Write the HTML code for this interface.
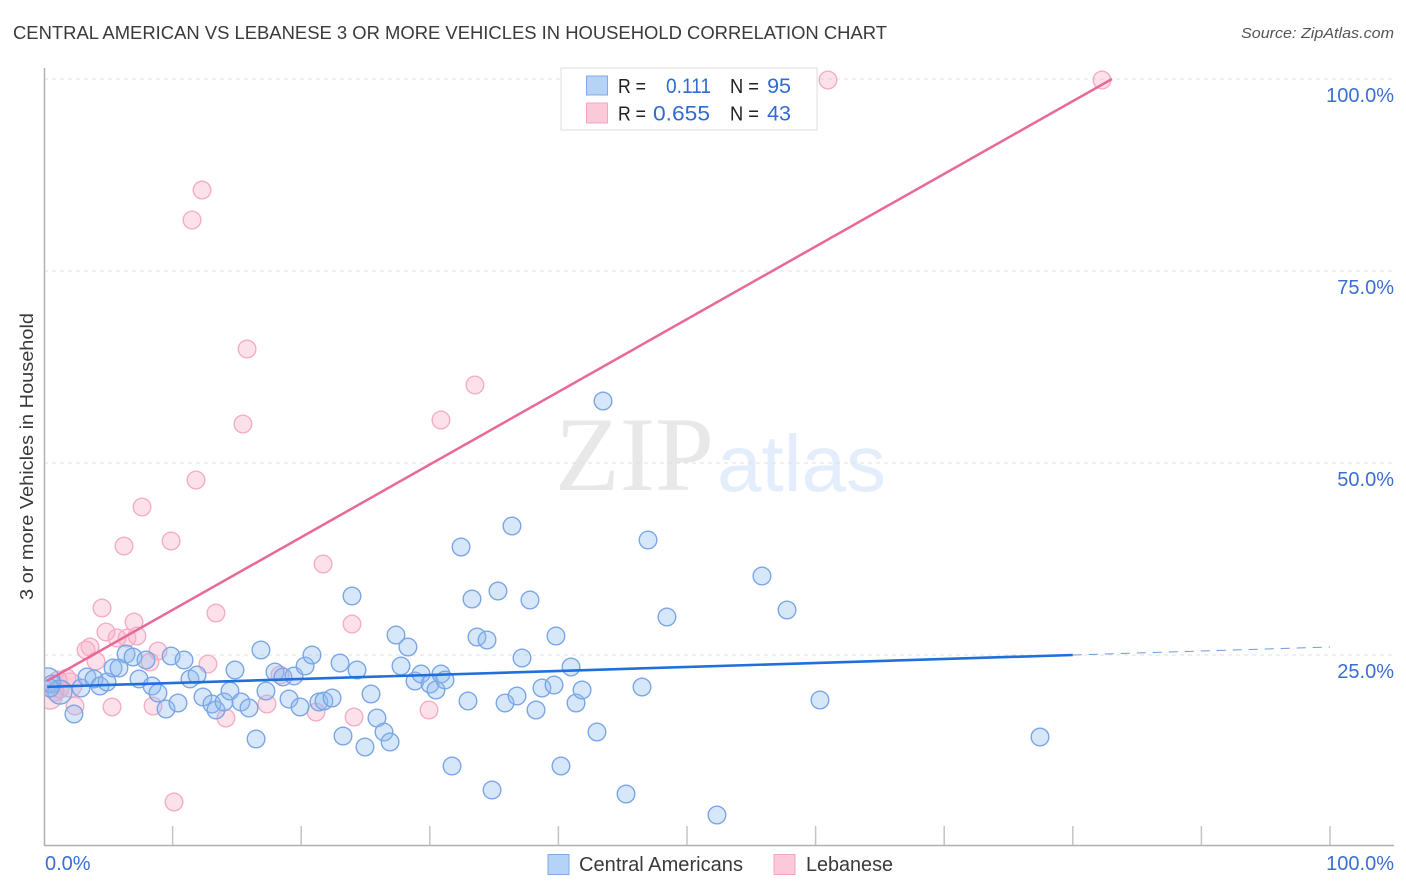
<!DOCTYPE html>
<html lang="en">
<head>
<meta charset="utf-8">
<title>Central American vs Lebanese 3 or More Vehicles in Household Correlation Chart</title>
<style>
html,body{margin:0;padding:0;background:#fff;width:1406px;height:892px;overflow:hidden}
svg{display:block;font-family:"Liberation Sans",sans-serif}
</style>
</head>
<body>
<svg id="chart" width="1406" height="892" viewBox="0 0 1406 892" xmlns="http://www.w3.org/2000/svg">
  <defs>
    <clipPath id="plot-clip"><rect x="45" y="60" width="1349" height="786"/></clipPath>
  </defs>
  <rect x="0" y="0" width="1406" height="892" fill="#ffffff"/>
  <text x="13" y="39" font-size="18.5" fill="#3a3a3a" textLength="874" lengthAdjust="spacingAndGlyphs">CENTRAL AMERICAN VS LEBANESE 3 OR MORE VEHICLES IN HOUSEHOLD CORRELATION CHART</text>
  <text x="1394" y="38" font-size="15" font-style="italic" fill="#555" text-anchor="end" textLength="153" lengthAdjust="spacingAndGlyphs">Source: ZipAtlas.com</text>
  <text transform="translate(33,456.5) rotate(-90)" font-size="18.5" fill="#3a3a3a" text-anchor="middle" textLength="287" lengthAdjust="spacingAndGlyphs">3 or more Vehicles in Household</text>
  <g>
    <text x="555" y="490" font-family="'Liberation Serif',serif" font-size="106" fill="#e8e8e8">ZIP</text>
    <text x="717" y="491" font-size="80" fill="#e4edfb">atlas</text>
  </g>
  <g id="grid"></g>
  <g id="axes"></g>
  <g clip-path="url(#plot-clip)">
    <g id="points-lebanese"></g>
    <g id="points-central"></g>
  </g>
  <g id="trends"></g>
  <g id="labels"></g>
  <g>
    <rect x="561" y="68" width="256" height="62" fill="#fff" stroke="#dddddd" stroke-width="1"/>
    <rect x="586.5" y="76" width="21" height="19" fill="#b5d2f7" stroke="#7fabe6"/>
    <rect x="586.5" y="103" width="21" height="20" fill="#fbc9d8" stroke="#f4a6bf"/>
    <g font-size="20" fill="#222">
      <text x="618" y="93" textLength="28" lengthAdjust="spacingAndGlyphs">R =</text>
      <text x="666" y="93" fill="#2f6cd0" font-size="21.5" textLength="45" lengthAdjust="spacingAndGlyphs">0.111</text>
      <text x="730" y="93" textLength="29" lengthAdjust="spacingAndGlyphs">N =</text>
      <text x="791" y="93" text-anchor="end" fill="#2f6cd0" font-size="21.5">95</text>
      <text x="618" y="120.5" textLength="28" lengthAdjust="spacingAndGlyphs">R =</text>
      <text x="653" y="120.5" fill="#2f6cd0" font-size="21.5" textLength="57" lengthAdjust="spacingAndGlyphs">0.655</text>
      <text x="730" y="120.5" textLength="29" lengthAdjust="spacingAndGlyphs">N =</text>
      <text x="791" y="120.5" text-anchor="end" fill="#2f6cd0" font-size="21.5">43</text>
    </g>
  </g>
  <g>
    <rect x="548" y="854.5" width="21" height="20" fill="#b5d2f7" stroke="#7fabe6"/>
    <text x="579" y="871" font-size="20" fill="#3a3a3a" textLength="164" lengthAdjust="spacingAndGlyphs">Central Americans</text>
    <rect x="774" y="854.5" width="21" height="20" fill="#fbc9d8" stroke="#f4a6bf"/>
    <text x="806" y="871" font-size="20" fill="#3a3a3a" textLength="87" lengthAdjust="spacingAndGlyphs">Lebanese</text>
  </g>
</svg>
<script>
const centralX = [0.31,0.62,1.24,2.33,2.88,3.34,3.89,4.35,4.90,5.37,5.83,6.38,6.92,7.39,7.93,8.40,8.86,9.49,9.88,10.42,10.89,11.35,11.90,12.36,13.06,13.37,14.00,14.46,14.85,15.32,15.94,16.49,16.87,17.26,17.96,18.58,19.05,19.44,19.91,20.30,20.84,21.38,21.77,22.40,23.02,23.25,23.95,24.34,24.96,25.43,25.89,26.44,26.91,27.37,27.76,28.30,28.85,29.32,30.02,30.48,30.87,31.18,31.73,32.43,32.97,33.28,33.67,34.45,34.84,35.30,35.85,36.39,36.78,37.17,37.79,38.26,38.72,39.66,39.81,40.20,40.98,41.37,41.84,43.00,43.47,45.26,46.50,46.97,48.44,52.33,55.83,57.78,60.34,77.45,0.47];
const centralY = [21.75,21.22,20.18,17.32,20.70,22.14,21.88,20.96,21.48,23.31,23.31,25.13,24.74,21.88,24.35,20.96,20.05,17.97,24.87,18.75,24.35,21.88,22.40,19.53,18.62,17.84,18.88,20.31,23.05,18.88,18.10,14.06,25.65,20.31,22.79,22.14,19.27,22.27,18.23,23.57,25.00,18.88,19.01,19.40,23.96,14.45,32.68,23.05,13.02,19.92,16.80,14.97,13.67,27.60,23.57,26.04,21.61,22.53,21.22,20.44,22.53,21.75,10.55,39.06,19.01,32.29,27.34,26.95,7.42,33.33,18.75,41.80,19.66,24.61,32.16,17.84,20.70,21.09,27.47,10.55,23.44,18.75,20.44,14.97,58.07,6.90,20.83,39.97,29.95,4.17,35.29,30.86,19.14,14.32,20.70];
const lebaneseX = [0.47,0.86,1.24,1.09,1.79,2.41,3.27,3.58,4.04,4.51,4.82,5.29,5.68,6.22,6.45,7.00,7.23,7.62,8.24,8.48,8.86,9.88,10.11,11.51,11.82,12.29,12.75,13.37,14.15,15.47,15.79,17.34,18.35,21.15,21.70,23.95,24.11,29.94,30.87,33.51,60.96,82.27,2.02];
const lebaneseY = [19.53,20.18,20.57,21.75,22.00,18.36,25.65,26.04,24.22,31.12,28.00,18.23,27.21,39.19,27.21,29.30,27.47,44.27,24.09,18.36,25.52,39.84,5.86,81.64,47.79,85.55,23.83,30.47,16.80,55.08,64.84,18.62,22.40,17.58,36.85,29.04,16.93,17.84,55.60,60.16,99.87,99.87,21.09];
const centralLargeIdx = [0,2];
const lebaneseLargeIdx = [0,42];
const centralTrendX = [0.25,80];
const centralTrendY = [20.85,25];
const centralTrendExtX = [80,100];
const centralTrendExtY = [25,26.04];
const lebaneseTrendX = [0.2,83.05];
const lebaneseTrendY = [21.6,100];
const xTicks = [10,20,30,40,50,60,70,80,90,100];
const yGrid = [25,50,75,100];
const yTickLabels = ["25.0%","50.0%","75.0%","100.0%"];
const xTickLabels = ["0.0%","100.0%"];

const NS = "http://www.w3.org/2000/svg";
function sx(v){ return 44 + v * 12.86; }
function sy(v){ return 847 - v * 7.68; }
function mk(tag, parent, attrs){
  const el = document.createElementNS(NS, tag);
  for (const k in attrs) el.setAttribute(k, attrs[k]);
  parent.appendChild(el);
  return el;
}
const grid = document.getElementById('grid');
yGrid.forEach(function(v){
  const l = mk('line', grid, {x1:44, x2:1394, y1:sy(v), y2:sy(v), stroke:'#e0e0e0', 'stroke-width':1, 'stroke-dasharray':'4 4'});
  
  
});
const axes = document.getElementById('axes');
const yAxis = mk('line', axes, {x1:44.5, x2:44.5, y1:68, y2:846, stroke:'#b0b0b0', 'stroke-width':1.5});


const xAxis = mk('line', axes, {x1:44, x2:1394, y1:845.5, y2:845.5, stroke:'#b0b0b0', 'stroke-width':1.5});


xTicks.forEach(function(v){
  const t = mk('line', axes, {x1:sx(v), x2:sx(v), y1:826, y2:845, stroke:'#c4c4c4', 'stroke-width':1.5});
  
  
});
function drawPoints(gid, xs, ys, large, fill, fillOp, stroke, name){
  const g = document.getElementById(gid);
  xs.forEach(function(x, i){
    const r = large.indexOf(i) >= 0 ? 12 : 8.8;
    const c = mk('circle', g, {cx:sx(x), cy:sy(ys[i]), r:r, fill:fill, 'fill-opacity':fillOp, stroke:stroke, 'stroke-width':1.4});
    
    
  });
}
drawPoints('points-lebanese', lebaneseX, lebaneseY, lebaneseLargeIdx, '#f9a9c2', 0.35, '#f5adc4', 'lebanese-point');
drawPoints('points-central', centralX, centralY, centralLargeIdx, '#8dbaf2', 0.35, '#7ba6e6', 'central-american-point');

const trends = document.getElementById('trends');
const t1 = mk('line', trends, {x1:sx(lebaneseTrendX[0]), y1:sy(lebaneseTrendY[0]), x2:sx(lebaneseTrendX[1]), y2:sy(lebaneseTrendY[1]), stroke:'#e8689a', 'stroke-width':2.5});


const t2 = mk('line', trends, {x1:sx(centralTrendX[0]), y1:sy(centralTrendY[0]), x2:sx(centralTrendX[1]), y2:sy(centralTrendY[1]), stroke:'#1f6fdc', 'stroke-width':2.6});


const t3 = mk('line', trends, {x1:sx(centralTrendExtX[0]), y1:sy(centralTrendExtY[0]), x2:sx(centralTrendExtX[1]), y2:sy(centralTrendExtY[1]), stroke:'#6f9ad6', 'stroke-width':1, 'stroke-dasharray':'9 7'});



const labels = document.getElementById('labels');
yTickLabels.forEach(function(s, i){
  const t = mk('text', labels, {x:1394, y:sy(yGrid[i]) + 23, 'font-size':20, fill:'#3a6fd2', 'text-anchor':'end'});
  t.textContent = s;
  
  
});
const xl0 = mk('text', labels, {x:45, y:870, 'font-size':20, fill:'#3a6fd2'});
xl0.textContent = xTickLabels[0];


const xl1 = mk('text', labels, {x:1394, y:870, 'font-size':20, fill:'#3a6fd2', 'text-anchor':'end'});
xl1.textContent = xTickLabels[1];


</script>
</body>
</html>
